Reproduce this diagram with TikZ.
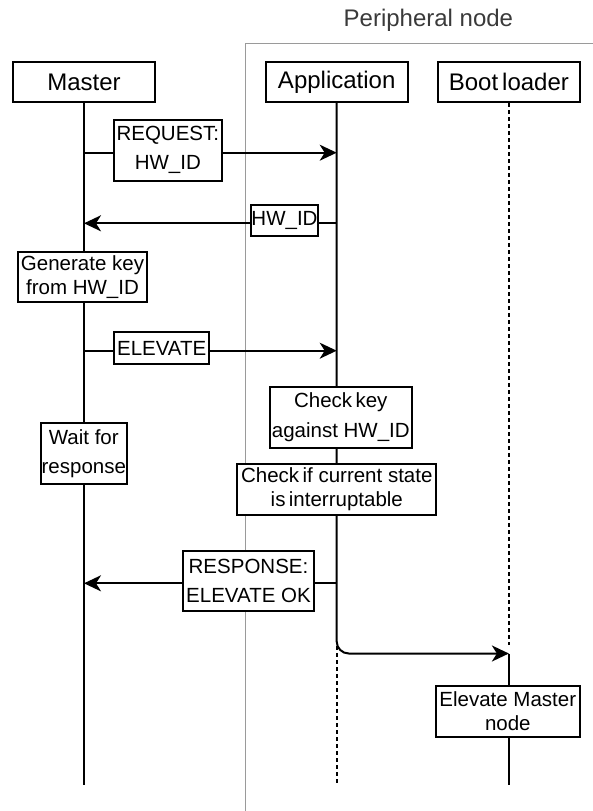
\documentclass[tikz,border=0pt]{standalone}
\usepackage{fontspec}
\setmainfont{Liberation Sans}
\usetikzlibrary{arrows.meta}
\definecolor{groupgray}{HTML}{9A9A9A}
\definecolor{titlegray}{HTML}{3A3A3A}
\tikzset{
  box/.style={draw, fill=white, line width=2pt, inner sep=0pt, align=center,
    font=\fontsize{20.5}{24}\selectfont},
  head/.style={box, font=\fontsize{24}{28}\selectfont},
  life/.style={line width=2pt},
  lifedash/.style={line width=2pt, dash pattern=on 4pt off 3pt},
  msg/.style={line width=2pt, -{Stealth[length=17pt,width=16pt,inset=5pt]}},
  grp/.style={draw=groupgray, line width=1.4pt}
}
\begin{document}
\begin{tikzpicture}[x=1pt,y=-1pt]
\useasboundingbox (0,0) rectangle (592,811);

% peripheral node group (frame runs off the right and bottom edges)
\draw[grp] (245.5,811) -- (245.5,43.3) -- (595,43.3);
\node[text=titlegray, font=\fontsize{24}{28}\selectfont, anchor=base] (ptitle) at (428.4,26.5) {Peripheral node};

% lifeline heads
\node[head, minimum width=142pt, minimum height=40pt] (master) at (84,82) {Master};
\node[head, minimum width=142pt, minimum height=40pt] (app) at (336.7,82) {Application};
\node[head, minimum width=142.3pt, minimum height=40pt] (boot) at (508.9,82) {Boot\,loader};

% lifeline ends and message points
\coordinate (mEnd) at (84,785);
\coordinate (aTurn) at (336.7,653.5);
\coordinate (aEnd) at (336.7,785);
\coordinate (bHit) at (508.9,653.5);
\coordinate (bEnd) at (508.9,785);

\coordinate (m1) at (84,152.7);   \coordinate (a1) at (336.7,152.7);
\coordinate (m2) at (84,223.3);   \coordinate (a2) at (336.7,223.3);
\coordinate (m3) at (84,350.7);   \coordinate (a3) at (336.7,350.7);
\coordinate (m4) at (84,583.3);   \coordinate (a4) at (336.7,583.3);

% lifelines
\draw[life] (master.south) -- (mEnd);
\draw[lifedash] (336.7,646) -- (aEnd);
\draw[lifedash] (boot.south) -- (508.9,645);
\draw[life] (bHit) -- (bEnd);

% messages
\draw[msg] (m1) -- (a1);
\draw[msg] (a2) -- (m2);
\draw[msg] (m3) -- (a3);
\draw[msg] (a4) -- (m4);
\draw[msg, rounded corners=12pt] (app.south) -- (aTurn) -- (bHit);

% message labels and activity boxes
\node[box, minimum width=107.7pt, minimum height=60.7pt] (req) at (167.8,150.3)
  {REQUEST:\\[5pt]HW\_ID};
\node[box, minimum width=67pt, minimum height=31pt] (hwid) at (284.5,220.5) {HW\_ID};
\node[box, minimum width=128.4pt, minimum height=50.6pt] (gen) at (82.5,277)
  {Generate key\\from HW\_ID};
\node[box, minimum width=95.3pt, minimum height=31.7pt] (elev) at (161.7,348.2) {ELEVATE};
\node[box, minimum width=142.3pt, minimum height=61pt] (chk) at (340.8,417.2)
  {Check\,key\\[6pt]against HW\_ID};
\node[box, minimum width=85.7pt, minimum height=60.7pt] (wait) at (83.8,453.7)
  {Wait for\\[5pt]response};
\node[box, minimum width=199pt, minimum height=51pt] (intr) at (336.8,489.5)
  {Check\,if current state\\is\,interruptable};
\node[box, minimum width=131.6pt, minimum height=60pt] (resp) at (248.5,581)
  {RESPONSE:\\[5pt]ELEVATE OK};
\node[box, minimum width=144.3pt, minimum height=50.7pt] (elm) at (507.8,711.3)
  {Elevate Master\\node};
\end{tikzpicture}
\end{document}
